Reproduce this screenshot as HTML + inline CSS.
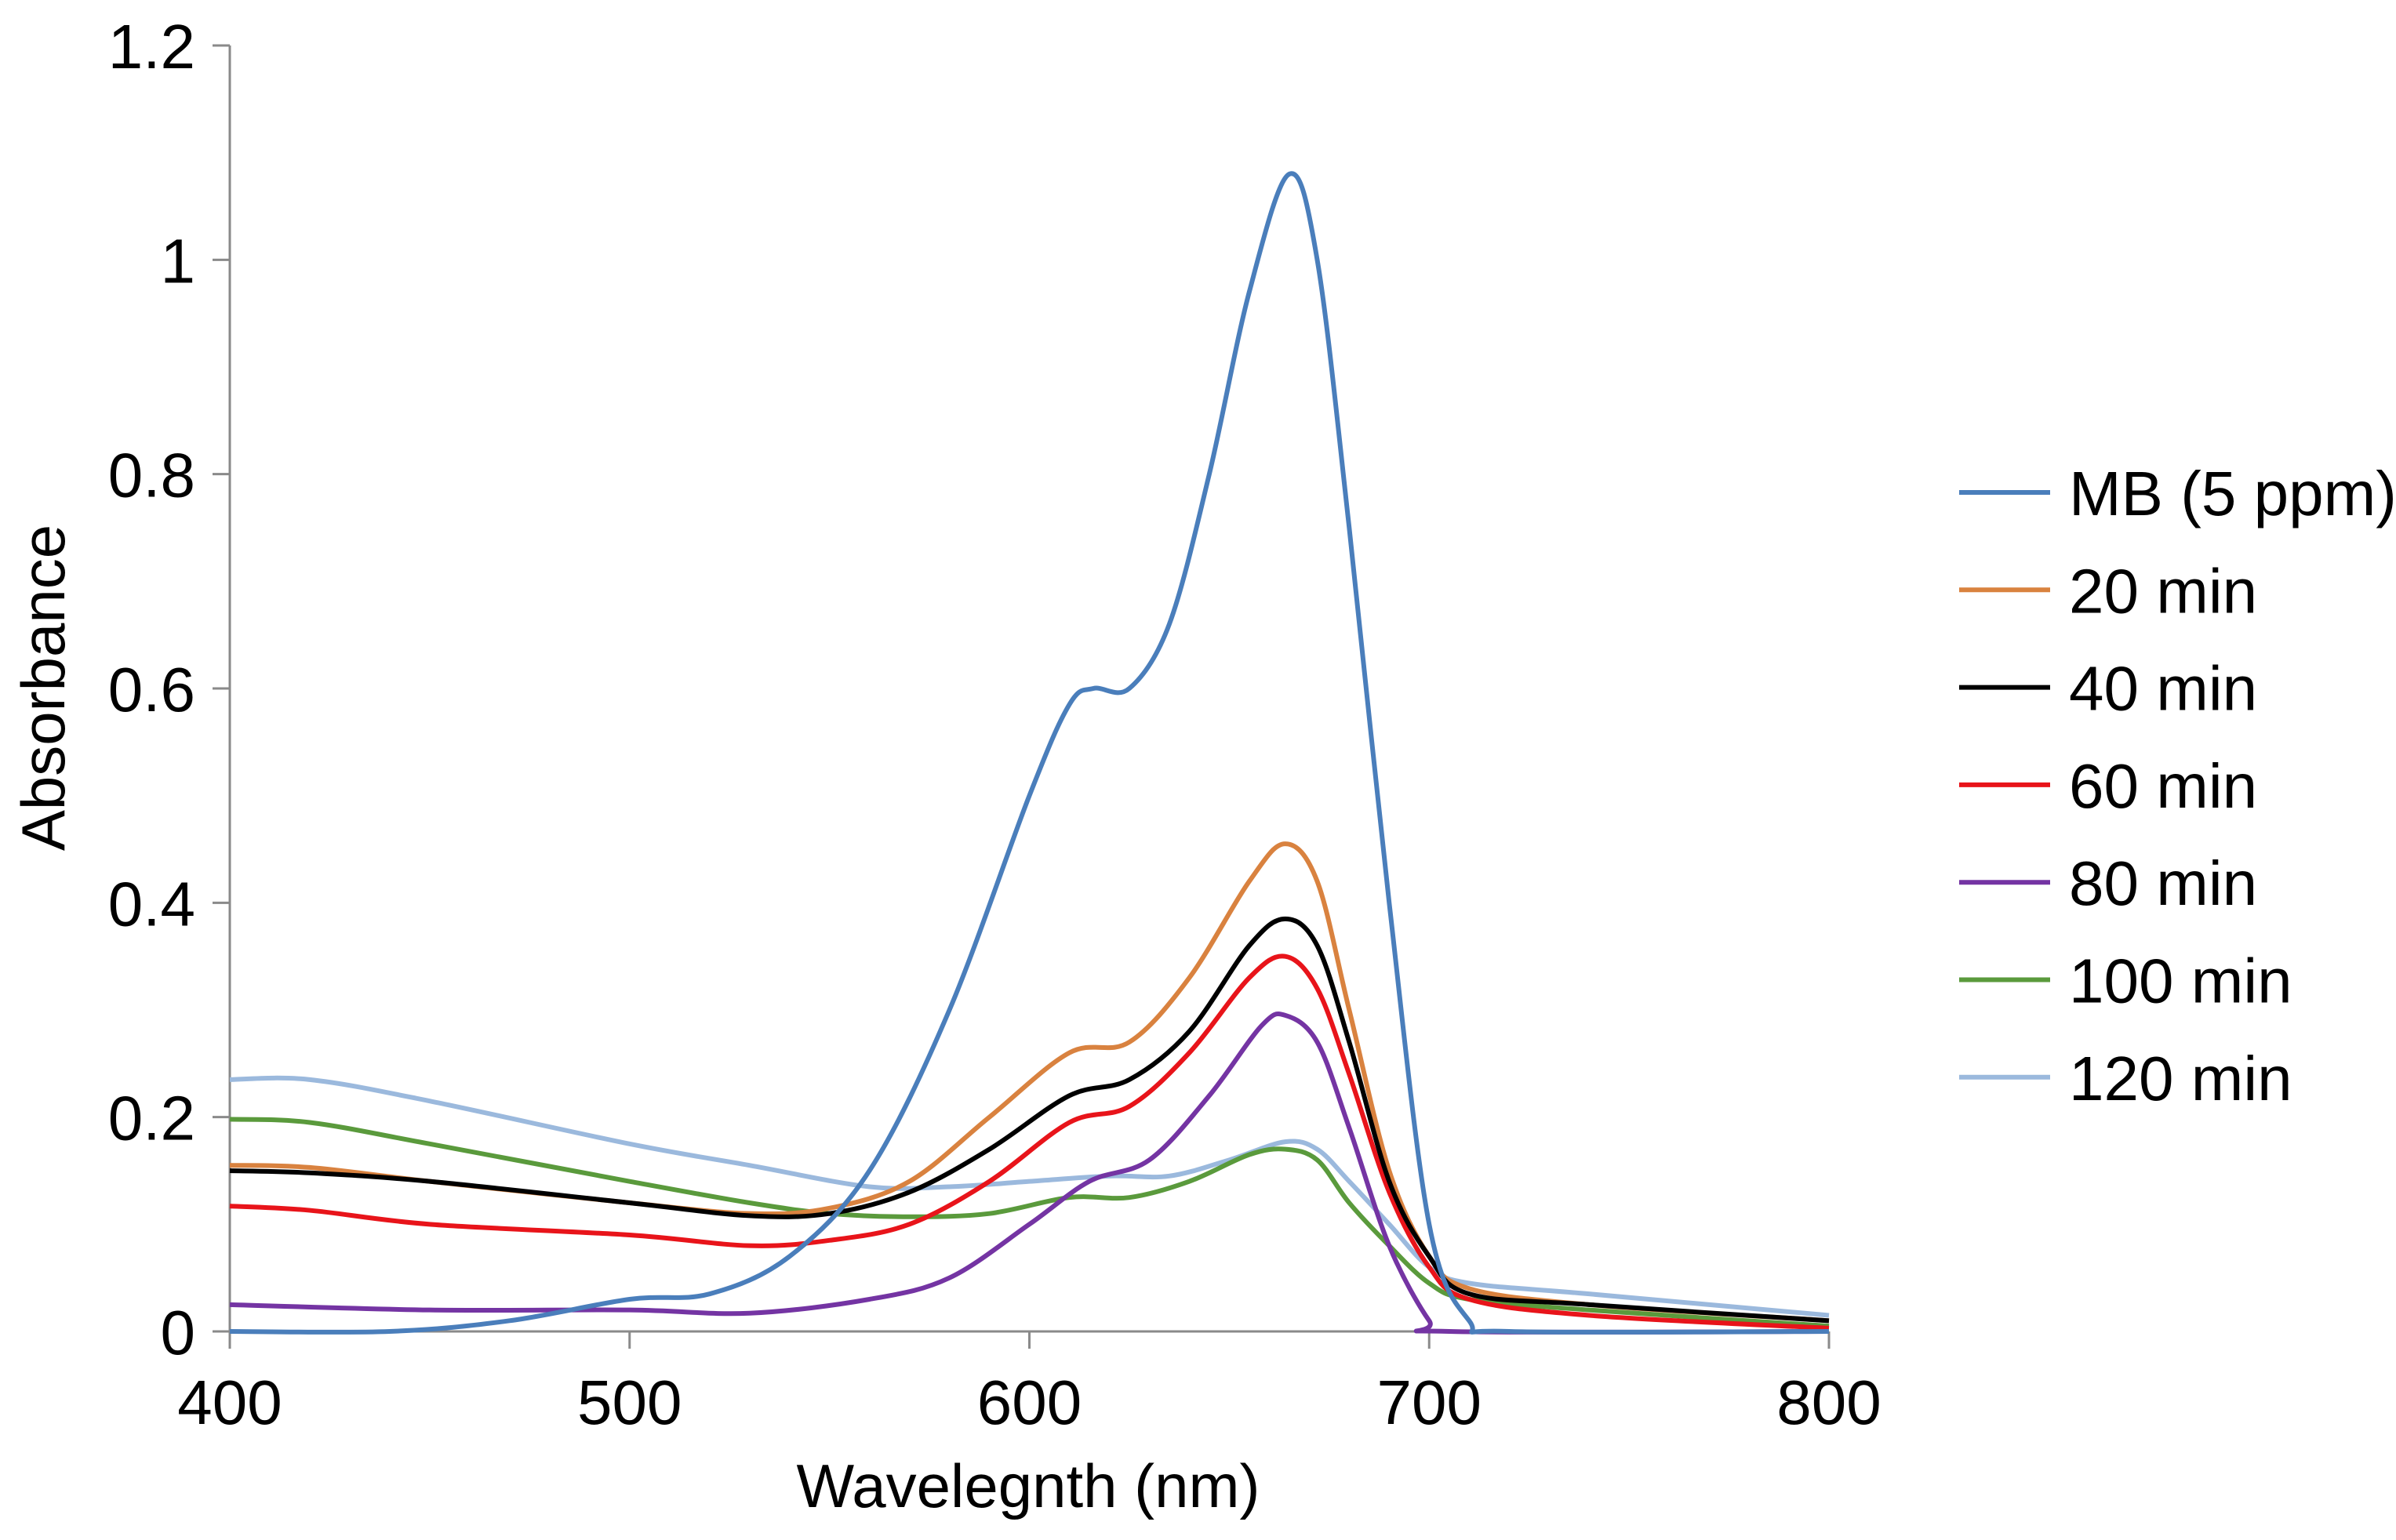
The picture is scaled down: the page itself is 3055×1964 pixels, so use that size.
<!DOCTYPE html>
<html><head><meta charset="utf-8"><style>
html,body{margin:0;padding:0;background:#fff;}
svg{display:block;font-family:"Liberation Sans",Arial,sans-serif;}
</style></head><body>
<svg id="chart" width="3055" height="1964" viewBox="0 0 3055 1964" xmlns="http://www.w3.org/2000/svg">
<g id="axes"></g>
<g id="series"></g>
<g id="legend"></g>
<text x="0" y="0" transform="translate(82,877) rotate(-90)" font-size="78" text-anchor="middle" fill="#000">Absorbance</text>
<text x="1311" y="1922" font-size="78" text-anchor="middle" fill="#000">Wavelegnth (nm)</text>
</svg>
<script>
const xTicks = [400, 500, 600, 700, 800];
const yTicks = [0, 0.2, 0.4, 0.6, 0.8, 1, 1.2];
const yTickLabels = ["0", "0.2", "0.4", "0.6", "0.8", "1", "1.2"];
const seriesNames = ["MB (5 ppm)", "20 min", "40 min", "60 min", "80 min", "100 min", "120 min"];
const seriesColors = ["#4a7ebb", "#d9823f", "#000000", "#e8141a", "#7434a3", "#5a9a3c", "#9bb9dd"];
const wlMB = [400,440,470,500,520,540,560,580,600,610,616,625,635,645,655,665,672,680,690,700,710,720,800];
const absMB = [0,0,0.01,0.03,0.035,0.07,0.15,0.3,0.5,0.585,0.6,0.6,0.66,0.8,0.97,1.08,1.0,0.75,0.4,0.1,0.01,0,0];
const wlStd = [400,420,450,500,530,550,570,590,610,625,640,655,664,672,680,690,700,710,740,800];
const abs20 = [0.155,0.153,0.14,0.12,0.11,0.115,0.14,0.2,0.26,0.27,0.33,0.42,0.455,0.42,0.3,0.15,0.07,0.04,0.025,0.01];
const abs40 = [0.15,0.148,0.14,0.12,0.108,0.11,0.13,0.17,0.22,0.235,0.28,0.36,0.385,0.36,0.27,0.14,0.07,0.035,0.025,0.01];
const abs60 = [0.117,0.113,0.1,0.09,0.08,0.085,0.1,0.14,0.195,0.21,0.26,0.33,0.35,0.32,0.24,0.13,0.06,0.03,0.015,0.003];
const wl80 = [400,450,500,530,560,580,600,615,630,645,658,664,672,680,690,700,705,800];
const abs80 = [0.025,0.02,0.02,0.017,0.03,0.05,0.1,0.14,0.16,0.22,0.285,0.295,0.27,0.19,0.08,0.01,0,0];
const abs100 = [0.198,0.195,0.175,0.14,0.12,0.11,0.107,0.11,0.125,0.125,0.14,0.165,0.17,0.16,0.12,0.08,0.045,0.03,0.02,0.005];
const wl120 = [400,420,450,500,530,560,580,600,620,635,650,664,672,680,690,700,710,740,800];
const abs120 = [0.235,0.235,0.215,0.175,0.155,0.135,0.135,0.14,0.145,0.145,0.16,0.177,0.17,0.14,0.1,0.06,0.045,0.035,0.015];

const X0=293, X1=2332, Y0=1698, Y1=58;
const xs = v => X0 + (v-400)/400*(X1-X0);
const ys = v => Y0 - v/1.2*(Y0-Y1);
const NS="http://www.w3.org/2000/svg";
function mk(tag, attrs, parent){const e=document.createElementNS(NS,tag);for(const k in attrs)e.setAttribute(k,attrs[k]);parent.appendChild(e);return e;}
const axes=document.getElementById('axes');
let a=mk('line',{x1:X0,y1:Y1,x2:X0,y2:Y0+22,stroke:'#8a8a8a','stroke-width':3},axes);


a=mk('line',{x1:X0-22,y1:Y0,x2:X1,y2:Y0,stroke:'#8a8a8a','stroke-width':3},axes);


yTicks.forEach((t,i)=>{
  const tk=mk('line',{x1:X0-22,y1:ys(t),x2:X0,y2:ys(t),stroke:'#8a8a8a','stroke-width':3},axes);
  
  
  const tx=mk('text',{x:X0-44,y:ys(t)+29,'font-size':80,'text-anchor':'end',fill:'#000'},axes);
  tx.textContent=yTickLabels[i];
  
  
});
xTicks.forEach(t=>{
  const tk=mk('line',{x1:xs(t),y1:Y0,x2:xs(t),y2:Y0+22,stroke:'#8a8a8a','stroke-width':3},axes);
  
  
  const tx=mk('text',{x:xs(t),y:Y0+118,'font-size':80,'text-anchor':'middle',fill:'#000'},axes);
  tx.textContent=String(t);
  
  
});
function smoothPath(wx, vy){
  const p=wx.map((w,i)=>[xs(w),ys(vy[i])]);
  let d='M'+p[0][0]+','+p[0][1];
  for(let i=0;i<p.length-1;i++){
    const p0=p[i-1]||p[i], p1=p[i], p2=p[i+1], p3=p[i+2]||p2;
    const c1=[p1[0]+(p2[0]-p0[0])/6, p1[1]+(p2[1]-p0[1])/6];
    const c2=[p2[0]-(p3[0]-p1[0])/6, p2[1]-(p3[1]-p1[1])/6];
    d+=' C'+c1[0]+','+c1[1]+' '+c2[0]+','+c2[1]+' '+p2[0]+','+p2[1];
  }
  return d;
}
const seriesX=[wlMB,wlStd,wlStd,wlStd,wl80,wlStd,wl120];
const seriesY=[absMB,abs20,abs40,abs60,abs80,abs100,abs120];
const seriesKeys=['mb-5ppm','20-min','40-min','60-min','80-min','100-min','120-min'];
const sg=document.getElementById('series');
const order=[6,5,4,3,1,2,0];
order.forEach(i=>{
  const pth=mk('path',{d:smoothPath(seriesX[i],seriesY[i]),fill:'none',stroke:seriesColors[i],'stroke-width':6,'stroke-linejoin':'round'},sg);
  
  
});
const lg=document.getElementById('legend');
seriesNames.forEach((n,i)=>{
  const y=628+i*124.3;
  const g=mk('g',{},lg);
  
  
  mk('line',{x1:2498,y1:y,x2:2614,y2:y,stroke:seriesColors[i],'stroke-width':6},g);
  const t=mk('text',{x:2638,y:y+29,'font-size':80,fill:'#000'},g);
  t.textContent=n;
});
</script>
</body></html>
